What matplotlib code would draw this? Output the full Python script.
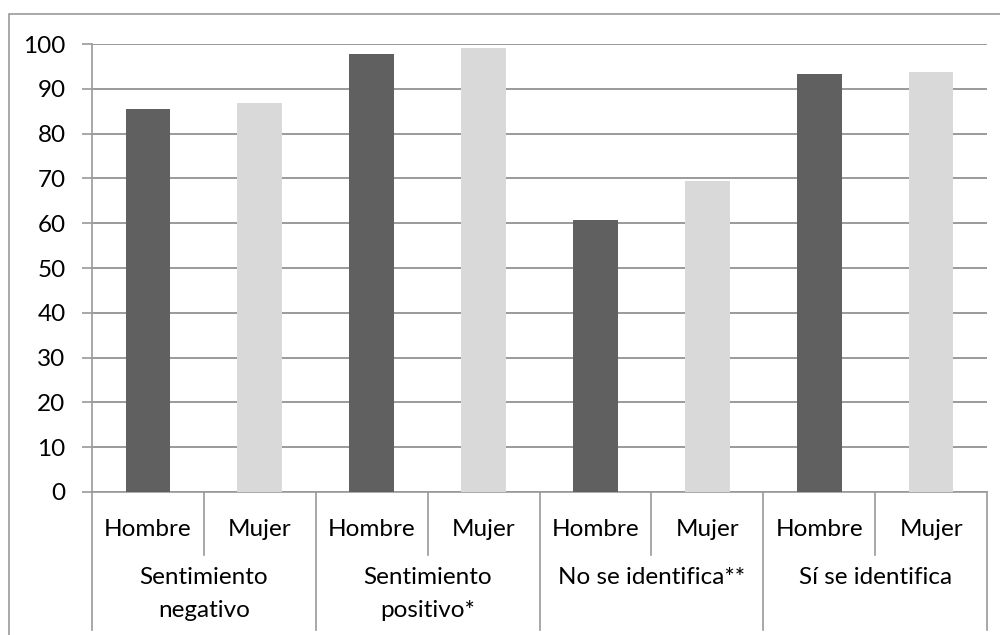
import matplotlib.pyplot as plt
from matplotlib.patches import Rectangle

groups = ["Sentimiento\nnegativo", "Sentimiento\npositivo*", "No se identifica**", "Sí se identifica"]
sexes = ["Hombre", "Mujer"]
hombre = [85.5, 97.7, 60.7, 93.4]
mujer = [86.8, 99.1, 69.4, 93.8]
yticks = [0, 10, 20, 30, 40, 50, 60, 70, 80, 90, 100]

plt.rcParams['font.family'] = ['Lato', 'DejaVu Sans']
fs = 17.5

fig = plt.figure(figsize=(10, 6.35), dpi=100)
ax = fig.add_axes([0.092, 0.2252, 0.895, 0.7055])

grid_col = '#9a9a9a'
dark = '#606060'
light = '#d9d9d9'

# one slot per sex within each group, 8 slots in total
pos_h = [2 * i for i in range(len(groups))]
pos_m = [2 * i + 1 for i in range(len(groups))]
ax.bar(pos_h, hombre, width=0.4, color=dark, zorder=3)
ax.bar(pos_m, mujer, width=0.4, color=light, zorder=3)

ax.set_xlim(-0.5, 2 * len(groups) - 0.5)
ax.set_ylim(0, 100)
ax.set_yticks(yticks)
ax.set_yticklabels([str(v) for v in yticks], fontsize=fs)
ax.yaxis.grid(True, color=grid_col, lw=1.4, zorder=0)
ax.tick_params(axis='y', length=7, width=1.2, color=grid_col, pad=12)
ax.tick_params(axis='x', bottom=False, labelbottom=False)
for side in ['top', 'right']:
    ax.spines[side].set_visible(False)
ax.spines['left'].set_color(grid_col)
ax.spines['left'].set_linewidth(1.2)
ax.spines['bottom'].set_color(grid_col)
ax.spines['bottom'].set_linewidth(1.2)

# two-level category axis below the plot
trans = ax.get_xaxis_transform()
px = 1 / (fig.get_size_inches()[1] * fig.dpi) / ax.get_position().height
inner_end = -63 * px
outer_end = -138 * px
for i in range(len(groups)):
    for j, s in enumerate(sexes):
        ax.text(2 * i + j, -38 * px, s, transform=trans, ha='center', va='center', fontsize=fs)
    ax.plot([2 * i + 0.5] * 2, [0, inner_end], transform=trans, color=grid_col, lw=1.2, clip_on=False)
    ax.plot([2 * i - 0.5] * 2, [0, outer_end], transform=trans, color=grid_col, lw=1.2, clip_on=False)
    ax.text(2 * i + 0.5, -75 * px, groups[i], transform=trans, ha='center', va='top',
            fontsize=fs, linespacing=1.7)
ax.plot([2 * len(groups) - 0.5] * 2, [0, outer_end], transform=trans, color=grid_col, lw=1.2, clip_on=False)

# outer chart border
fig.patches.append(Rectangle((0.009, -0.1), 1.2, 1.1 - 14 / 635, transform=fig.transFigure,
                             fill=False, edgecolor=grid_col, lw=1.2))

fig.savefig("out.png", dpi=100)
